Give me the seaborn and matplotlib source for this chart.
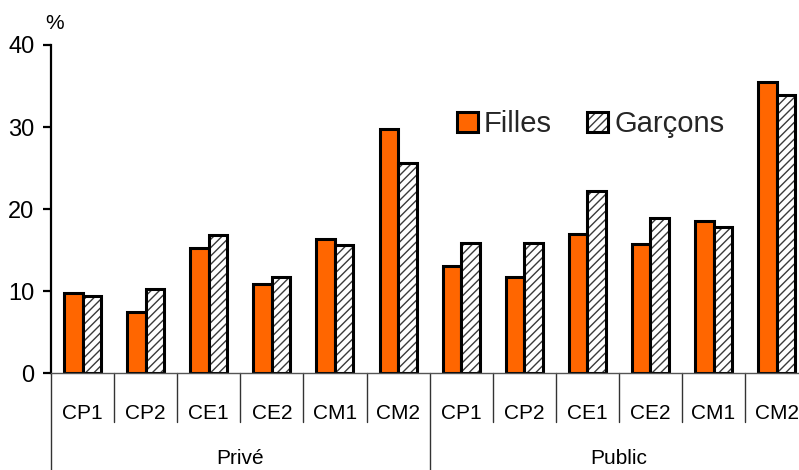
import matplotlib
matplotlib.use("Agg")
import matplotlib.pyplot as plt
from matplotlib.colors import to_rgba
from matplotlib.patches import Patch
import matplotlib.transforms as mtransforms
import seaborn as sns
import pandas as pd

# Data: share (%) by school sector, grade and sex
secteurs = ["Privé", "Public"]
niveaux = ["CP1", "CP2", "CE1", "CE2", "CM1", "CM2"]
filles_prive = [9.8, 7.4, 15.2, 10.9, 16.4, 29.7]
garcons_prive = [9.4, 10.2, 16.8, 11.7, 15.6, 25.6]
filles_public = [13.0, 11.7, 17.0, 15.7, 18.5, 35.5]
garcons_public = [15.8, 15.8, 22.2, 18.9, 17.8, 33.9]
yticks = [0, 10, 20, 30, 40]

rows = []
for sect, f_vals, g_vals in [("Privé", filles_prive, garcons_prive),
                             ("Public", filles_public, garcons_public)]:
    for niv, f, g in zip(niveaux, f_vals, g_vals):
        key = f"{sect}|{niv}"
        rows.append({"cle": key, "sexe": "Filles", "pct": f})
        rows.append({"cle": key, "sexe": "Garçons", "pct": g})
df = pd.DataFrame(rows)
order = [f"{s}|{n}" for s in secteurs for n in niveaux]

sns.set_theme(style="white")
plt.rcParams["font.family"] = ["Liberation Sans", "DejaVu Sans"]
plt.rcParams["hatch.linewidth"] = 1.0

W, H = 799, 470
fig = plt.figure(figsize=(W / 100, H / 100), dpi=100)
ax_left, ax_bottom = 51, 97
group_px = 63.1
ax_w = group_px * 12
ax_h = 328
ax = fig.add_axes([ax_left / W, ax_bottom / H, ax_w / W, ax_h / H])

orange = "#FF6600"
sns.barplot(data=df, x="cle", y="pct", hue="sexe", order=order,
            hue_order=["Filles", "Garçons"],
            palette={"Filles": orange, "Garçons": "white"},
            width=0.586, gap=0, errorbar=None, ax=ax,
            edgecolor="black", linewidth=2.2, legend=False, saturation=1)

hatch_col = to_rgba("#3a3a3a")
for p in ax.containers[1]:
    p.set_hatch("////")
    if hasattr(p, "set_hatchcolor"):
        p.set_hatchcolor(hatch_col)
    else:
        p._hatch_color = hatch_col

ax.set_xlim(-0.5, 11.5)
ax.set_ylim(0, 40)
ax.set_yticks(yticks)
ax.set_xticks(range(12))
ax.set_xticklabels(niveaux * 2)
ax.set_xlabel("")
ax.set_ylabel("")

for s in ["top", "right"]:
    ax.spines[s].set_visible(False)
ax.spines["left"].set_color("black")
ax.spines["left"].set_linewidth(1.6)
ax.spines["bottom"].set_color("#555555")
ax.spines["bottom"].set_linewidth(1.0)

ax.tick_params(axis="y", left=True, direction="out", length=6, width=1.6,
               color="black", labelsize=17, pad=6, labelcolor="black")
ax.tick_params(axis="x", bottom=False, length=0, labelsize=15, pad=22,
               labelcolor="black")

# Separators between grades and between sectors
trans = mtransforms.blended_transform_factory(ax.transData, ax.transAxes)
short_y = (48 - ax_bottom) / ax_h
long_y = (0 - ax_bottom) / ax_h
for i in range(12):
    xpos = i - 0.5
    ybot = long_y if i in (0, 6) else short_y
    ax.plot([xpos, xpos], [0, ybot], transform=trans, color="#333333",
            lw=1.0, clip_on=False)

label_y = (12 - ax_bottom) / ax_h
ax.text(2.5, label_y, "Privé", transform=trans, ha="center", va="center",
        fontsize=15, color="black")
ax.text(8.5, label_y, "Public", transform=trans, ha="center", va="center",
        fontsize=15, color="black")

ax.text((54.5 - ax_left) / ax_w, (H - 23.5 - ax_bottom) / ax_h, "%",
        transform=ax.transAxes, ha="center", va="center", fontsize=15,
        color="black")

handles = [Patch(facecolor=orange, edgecolor="black", linewidth=2.2),
           Patch(facecolor="white", edgecolor="black", linewidth=2.2,
                 hatch="////")]
leg = fig.legend(handles, ["Filles", "Garçons"], ncol=2, frameon=False,
                 loc="upper left", bbox_to_anchor=(457 / W, 1 - 110 / H),
                 fontsize=21, handlelength=0.72, handleheight=0.68,
                 handletextpad=0.2, columnspacing=1.22, borderpad=0,
                 borderaxespad=0)
for h in leg.legend_handles:
    if h.get_hatch():
        if hasattr(h, "set_hatchcolor"):
            h.set_hatchcolor(hatch_col)
        else:
            h._hatch_color = hatch_col

fig.savefig("out.png", dpi=100)
